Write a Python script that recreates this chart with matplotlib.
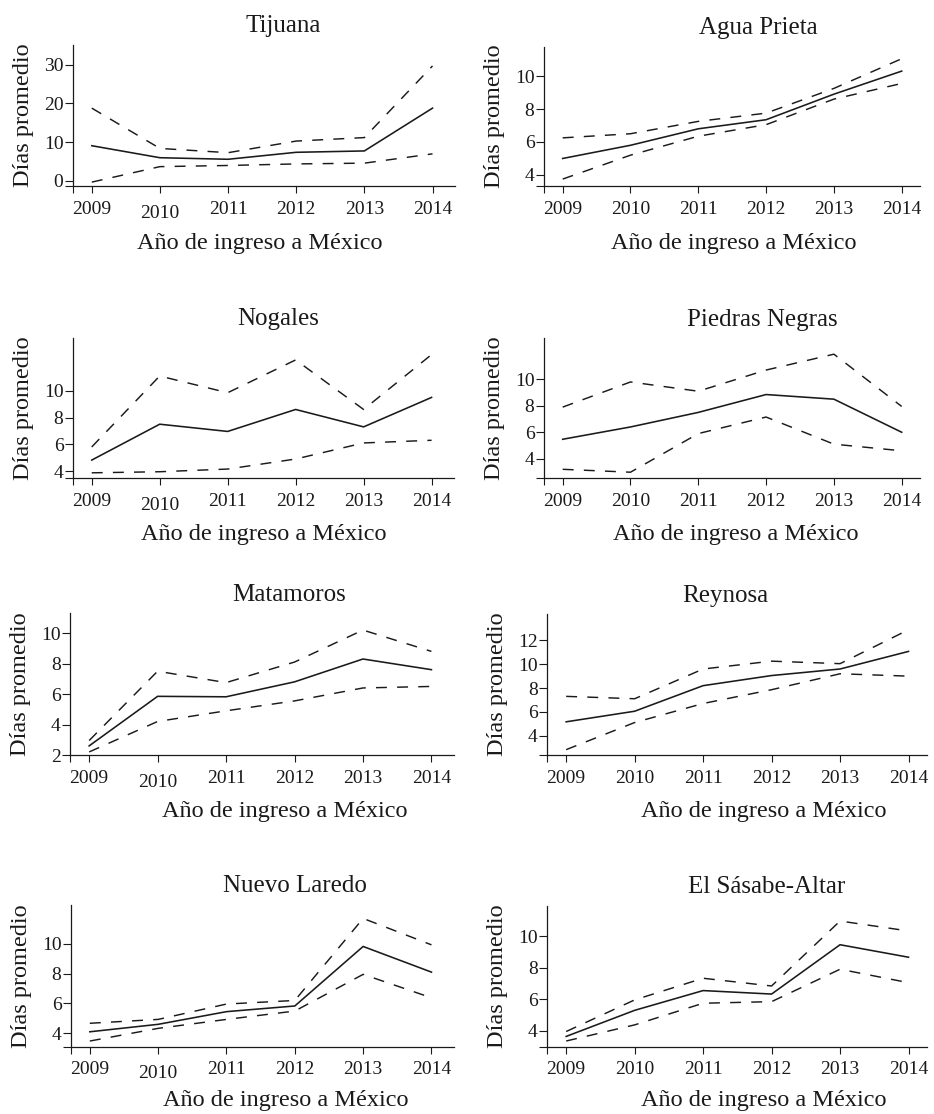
import numpy as np
import matplotlib
matplotlib.use("Agg")
import matplotlib.pyplot as plt
from matplotlib.transforms import ScaledTranslation

plt.rcParams['font.family'] = ['Liberation Serif', 'DejaVu Serif']

# --- Data ---
years = [2009, 2010, 2011, 2012, 2013, 2014]
cities = ["Tijuana", "Agua Prieta", "Nogales", "Piedras Negras",
          "Matamoros", "Reynosa", "Nuevo Laredo", "El Sásabe-Altar"]

tijuana_mean = [9.1, 6.0, 5.6, 7.4, 7.75, 18.8]
tijuana_upper = [18.8, 8.4, 7.3, 10.3, 11.2, 29.7]
tijuana_lower = [-0.3, 3.7, 4.0, 4.4, 4.6, 7.0]

agua_mean = [5.0, 5.8, 6.8, 7.35, 8.9, 10.3]
agua_upper = [6.25, 6.5, 7.25, 7.75, 9.25, 11.05]
agua_lower = [3.75, 5.2, 6.35, 7.05, 8.6, 9.55]

nogales_mean = [4.82, 7.5, 6.96, 8.6, 7.3, 9.5]
nogales_upper = [5.8, 11.1, 9.85, 12.3, 8.6, 12.7]
nogales_lower = [3.87, 3.95, 4.15, 4.9, 6.1, 6.3]

piedras_mean = [5.47, 6.4, 7.5, 8.85, 8.5, 6.0]
piedras_upper = [7.9, 9.8, 9.1, 10.7, 11.9, 7.95]
piedras_lower = [3.2, 2.98, 5.9, 7.15, 5.1, 4.6]

matamoros_mean = [2.6, 5.85, 5.82, 6.8, 8.3, 7.6]
matamoros_upper = [2.95, 7.5, 6.75, 8.1, 10.2, 8.8]
matamoros_lower = [2.2, 4.2, 4.9, 5.55, 6.4, 6.5]

reynosa_mean = [5.16, 6.05, 8.2, 9.05, 9.6, 11.08]
reynosa_upper = [7.3, 7.1, 9.6, 10.26, 10.05, 12.9]
reynosa_lower = [2.82, 5.1, 6.7, 7.86, 9.2, 9.0]

laredo_mean = [4.1, 4.6, 5.45, 5.83, 9.82, 8.1]
laredo_upper = [4.67, 4.93, 5.96, 6.2, 11.7, 9.93]
laredo_lower = [3.48, 4.33, 4.93, 5.49, 7.95, 6.38]

sasabe_mean = [3.65, 5.3, 6.55, 6.33, 9.45, 8.66]
sasabe_upper = [3.96, 5.96, 7.33, 6.84, 10.95, 10.32]
sasabe_lower = [3.36, 4.38, 5.75, 5.85, 7.9, 7.05]

means = [tijuana_mean, agua_mean, nogales_mean, piedras_mean,
         matamoros_mean, reynosa_mean, laredo_mean, sasabe_mean]
uppers = [tijuana_upper, agua_upper, nogales_upper, piedras_upper,
          matamoros_upper, reynosa_upper, laredo_upper, sasabe_upper]
lowers = [tijuana_lower, agua_lower, nogales_lower, piedras_lower,
          matamoros_lower, reynosa_lower, laredo_lower, sasabe_lower]

y_ticks = [[0, 10, 20, 30], [4, 6, 8, 10], [4, 6, 8, 10], [4, 6, 8, 10],
           [2, 4, 6, 8, 10], [4, 6, 8, 10, 12], [4, 6, 8, 10], [4, 6, 8, 10]]

# --- Layout (pixels in a 934x1114 canvas) ---
W, H = 934, 1114
# left, right, top, bottom
rects = [(72.7, 455, 45, 186), (543.7, 920, 46.7, 186),
         (72.7, 454, 337.7, 478.3), (543.7, 920, 338.3, 478.3),
         (70, 454, 613.3, 755), (547, 927, 614.3, 755),
         (70.7, 454, 905, 1046.7), (547, 927, 906, 1046.7)]
ylims = [(-1.3, 35.1), (3.33, 11.78), (3.46, 13.96), (2.52, 13.1),
         (2.0, 11.3), (2.37, 14.2), (3.1, 12.6), (3.0, 11.9)]
title_x = [0.55, 0.57, 0.54, 0.58, 0.57, 0.47, 0.585, 0.577]
xlabel_x = [0.49, 0.506, 0.5, 0.51, 0.56, 0.57, 0.56, 0.57]
xlabel_y = [-0.45, -0.45, -0.44, -0.44, -0.44, -0.44, -0.42, -0.42]

ink = "#1a1a1a"

fig = plt.figure(figsize=(W / 100, H / 100), dpi=100)

for i, city in enumerate(cities):
    l, r, t, b = rects[i]
    ax = fig.add_axes([l / W, 1 - b / H, (r - l) / W, (b - t) / H])
    left_col = (i % 2 == 0)
    x0 = 2008.72
    x1 = 2014.33 if left_col else 2014.27
    ax.set_xlim(x0, x1)
    ax.set_ylim(*ylims[i])

    ax.plot(years, means[i], color=ink, lw=1.15, solid_joinstyle='miter')
    for band in (uppers[i], lowers[i]):
        ln, = ax.plot(years, band, color=ink, lw=1.05)
        ln.set_dashes((7.5, 7))

    for s in ("top", "right"):
        ax.spines[s].set_visible(False)
    for s in ("left", "bottom"):
        ax.spines[s].set_linewidth(0.9)
        ax.spines[s].set_color(ink)

    # extra ticks at the axis origin make the crossing extensions
    ax.set_xticks([x0] + years)
    ax.set_xticklabels([""] + [str(y) for y in years])
    yt = y_ticks[i]
    ax.set_yticks([ylims[i][0]] + yt if ylims[i][0] not in yt else yt)
    ax.set_yticklabels(([""] if ylims[i][0] not in yt else []) + [str(v) for v in yt])
    ax.tick_params(axis='x', length=5, width=0.8, color=ink, pad=5.5,
                   labelsize=14, labelcolor=ink)
    ax.tick_params(axis='y', length=5.5, width=0.8, color=ink, pad=1.2,
                   labelsize=14, labelcolor=ink)

    if left_col:
        lab = ax.get_xticklabels()[2]
        lab.set_transform(lab.get_transform() +
                          ScaledTranslation(0, -4 / 100, fig.dpi_scale_trans))

    width_px = r - l
    ax.set_ylabel("Días promedio", fontsize=17.5, color=ink, va='center')
    ax.yaxis.set_label_coords(-49 / width_px, 0.5)
    ax.set_xlabel("Año de ingreso a México", fontsize=17.5, color=ink, va='baseline')
    ax.xaxis.set_label_coords(xlabel_x[i], xlabel_y[i])
    ax.text(title_x[i], 1.09, city, transform=ax.transAxes, ha='center',
            va='baseline', fontsize=18, color=ink)

fig.savefig("out.png", dpi=100)
